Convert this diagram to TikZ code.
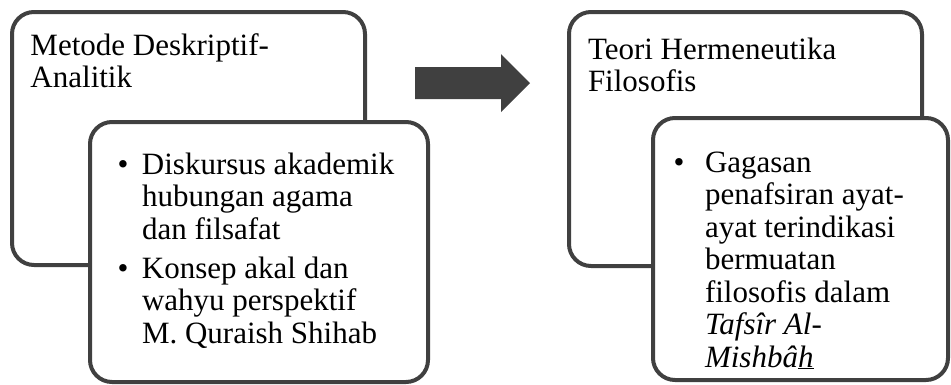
\documentclass[tikz,border=0pt]{standalone}
\usepackage{fontspec}
\setmainfont{Liberation Serif}
\usetikzlibrary{positioning}
\definecolor{edgegray}{HTML}{404040}
\tikzset{
  panel/.style={draw=edgegray, line width=4pt, rounded corners=22pt, fill=white, inner sep=0pt, outer sep=0pt},
  label/.style={inner sep=0pt, outer sep=0pt, font=\fontsize{31}{32.5}\selectfont},
  bigarrow/.style={fill=edgegray}
}

\begin{document}
\begin{tikzpicture}[x=1pt,y=-1pt]
\useasboundingbox (0,0) rectangle (951,384);

% left pair
\node[panel, minimum width=353pt, minimum height=253pt] (methodbox) at (188.5,138.5) {};
\node[label, below right=20.25pt and 18.5pt of methodbox.north west] (methodtitle)
  {\begin{tabular}{@{}l@{}}Metode Deskriptif-\\Analitik\end{tabular}};
\node[panel, minimum width=338pt, minimum height=260pt] (methodsub) at (259,252) {};
\node[label, below right=29.25pt and 27.5pt of methodsub.north west] (methoditems)
  {\begin{tabular}{@{}p{24.5pt}@{}l@{}}
   \textbullet & Diskursus akademik\\
               & hubungan agama\\
               & dan filsafat\\[6.5pt]
   \textbullet & Konsep akal dan\\
               & wahyu perspektif\\
               & M. Quraish Shihab
   \end{tabular}};

% arrow between
\coordinate (arrowtail) at (415,67);
\fill[bigarrow] (arrowtail) -- ++(86,0) -- ++(0,-13) -- ++(29,29) -- ++(-29,29)
  -- ++(0,-13) -- ++(-86,0) -- cycle;

% right pair
\node[panel, minimum width=353pt, minimum height=254pt] (theorybox) at (745.5,139) {};
\node[label, below right=24.25pt and 19pt of theorybox.north west] (theorytitle)
  {\begin{tabular}{@{}l@{}}Teori Hermeneutika\\Filosofis\end{tabular}};
\node[panel, minimum width=295pt, minimum height=262pt] (theorysub) at (800.5,249) {};
\node[label, below right=31.25pt and 20.5pt of theorysub.north west] (theoryitems)
  {\begin{tabular}{@{}p{31.5pt}@{}l@{}}
   \textbullet & Gagasan\\
               & penafsiran ayat-\\
               & ayat terindikasi\\
               & bermuatan\\
               & filosofis dalam\\
               & \textit{Tafsîr Al-}\\
               & \textit{Mishbâ\underline{h}}
   \end{tabular}};

\end{tikzpicture}
\end{document}
